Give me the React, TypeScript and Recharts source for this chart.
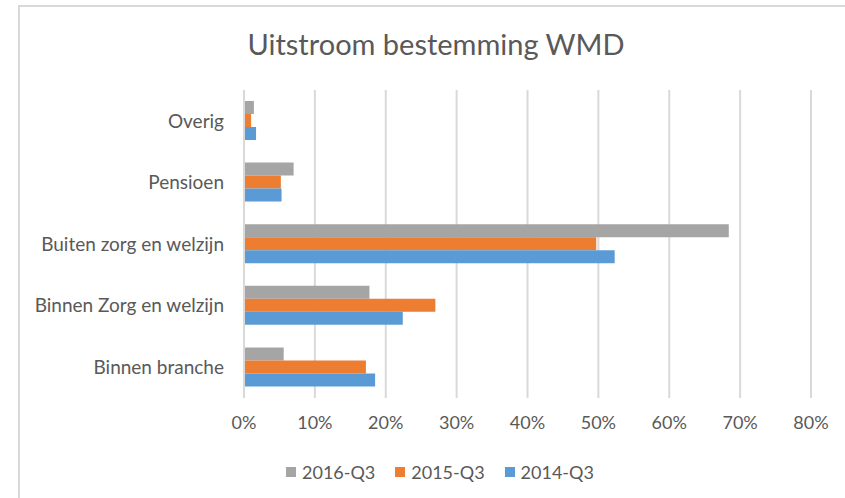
import React from "react";
import { BarChart, Bar, XAxis, YAxis, CartesianGrid } from "recharts";

const categories = ["Overig", "Pensioen", "Buiten zorg en welzijn", "Binnen Zorg en welzijn", "Binnen branche"];
const q2016 = [0.014, 0.07, 0.684, 0.177, 0.056];
const q2015 = [0.01, 0.052, 0.497, 0.27, 0.172];
const q2014 = [0.017, 0.053, 0.523, 0.224, 0.185];
const xTicks = [0, 0.1, 0.2, 0.3, 0.4, 0.5, 0.6, 0.7, 0.8];

const series = [
  { key: "q2016", name: "2016-Q3", color: "#A5A5A5" },
  { key: "q2015", name: "2015-Q3", color: "#ED7D31" },
  { key: "q2014", name: "2014-Q3", color: "#5B9BD5" },
];

const data = categories.map((name, i) => ({
  name,
  q2016: q2016[i],
  q2015: q2015[i],
  q2014: q2014[i],
}));

const font = "Lato, 'Open Sans', sans-serif";
const textColor = "#595959";

export default function App() {
  return (
    <div
      style={{
        position: "absolute",
        left: 0,
        top: 0,
        width: 845,
        height: 498,
        overflow: "hidden",
        background: "#fff",
        fontFamily: font,
      }}
    >
      <div
        style={{
          position: "absolute",
          left: 18,
          top: 5,
          width: 900,
          height: 600,
          borderLeft: "2px solid #d9d9d9",
          borderTop: "2px solid #d9d9d9",
        }}
      />
      <div
        style={{
          position: "absolute",
          left: 0,
          width: 872,
          top: 26,
          textAlign: "center",
          fontSize: 29,
          color: textColor,
          lineHeight: "36px",
        }}
      >
        Uitstroom bestemming WMD
      </div>
      <div style={{ position: "absolute", left: 0, top: 0 }}>
        <BarChart
          width={845}
          height={498}
          data={data}
          layout="vertical"
          margin={{ top: 90, right: 34, left: 0, bottom: 60 }}
          barSize={13}
          barGap={0}
        >
          <CartesianGrid horizontal={false} stroke="#d9d9d9" strokeWidth={2} />
          <XAxis
            type="number"
            domain={[0, 0.8]}
            ticks={xTicks}
            tickFormatter={(v: number) => `${Math.round(v * 100)}%`}
            axisLine={false}
            tickLine={false}
            tickMargin={12}
            height={40}
            tick={{ fill: textColor, fontSize: 18, fontFamily: font }}
          />
          <YAxis
            type="category"
            dataKey="name"
            width={244}
            axisLine={{ stroke: "#d9d9d9", strokeWidth: 2 }}
            tickLine={false}
            tickMargin={14}
            tick={{ fill: textColor, fontSize: 19, fontFamily: font }}
          />
          {series.map((s) => (
            <Bar key={s.key} dataKey={s.key} name={s.name} fill={s.color} isAnimationActive={false} />
          ))}
        </BarChart>
      </div>
      <div
        style={{
          position: "absolute",
          left: 286,
          top: 460,
          display: "flex",
          alignItems: "center",
          fontSize: 18,
          color: textColor,
          lineHeight: "24px",
        }}
      >
        {series.map((s) => (
          <div key={s.key} style={{ display: "flex", alignItems: "center", marginRight: 20 }}>
            <span style={{ width: 10, height: 10, background: s.color, marginRight: 6, display: "inline-block" }} />
            <span>{s.name}</span>
          </div>
        ))}
      </div>
    </div>
  );
}
